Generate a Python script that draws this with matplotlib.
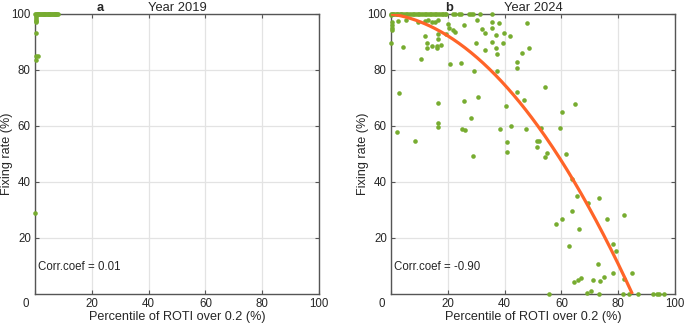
import numpy as np
import matplotlib.pyplot as plt
import matplotlib.transforms as mtransforms

# ---- data ----
# 2019: fixing rate vs percentile of ROTI > 0.2
x2019_top = [0, 0.3, 0.6, 0.9, 1.2, 1.5, 1.8, 2.1, 2.4, 2.7, 3.0, 3.3, 3.6, 3.9,
             4.2, 4.5, 4.8, 5.1, 5.4, 5.7, 6.0, 6.3, 6.6, 6.9, 7.2, 7.5, 7.8, 8.1]
x2019_other = [0.2, 0.3, 0.2, 0.5, 0.3, 0.2, 0.3, 1.2, 0.2, 0.1]
y2019_other = [99.3, 98.6, 98.0, 97.6, 97.2, 93.3, 85.1, 84.9, 83.6, 29.0]

# 2024
x2024_top = [0, 0.4, 0.8, 1.2, 1.6, 2.0, 2.5, 3.0, 3.5, 4.0, 4.6, 5.2, 5.8, 6.4,
             7.0, 7.6, 8.2, 8.8, 9.4, 10.0, 10.6, 11.2, 11.8, 12.4, 13.0, 13.6,
             14.2, 14.8, 15.4, 16.0, 16.6, 17.2, 17.8, 18.4, 19.0, 19.5, 21.8,
             22.5, 23.9, 24.6, 27.5, 28.2, 28.9, 31.3, 35.6]
x2024_other = [0.1, 0.3, 0.3, 0.2, 0.4, 0.1, 2.5, 5.3, 4.3, 2.9, 2.2, 8.4, 9.5,
               10.6, 12.0, 12.0, 12.8, 12.8, 13.0, 14.4, 14.3, 15.5, 16.1, 16.1,
               16.5, 16.5, 17.6, 16.5, 16.5, 16.5, 16.5, 19.4, 20.0, 20.4, 21.8,
               22.5, 20.8, 24.6, 25.7, 25.7, 25.0, 26.0, 28.2, 28.9, 29.9, 29.2,
               30.3, 30.6, 32.0, 33.1, 33.1, 35.6, 35.6, 35.6, 37.0, 37.0, 37.3,
               37.3, 38.0, 39.4, 39.8, 41.9, 38.4, 40.5, 42.3, 40.8, 40.8, 44.4,
               44.4, 44.4, 46.1, 46.8, 47.9, 47.5, 48.6, 51.4, 52.0, 51.4, 52.8,
               54.2, 54.2, 54.9, 59.5, 60.2, 61.6, 64.8, 63.7, 65.5, 69.4, 73.2,
               63.7, 60.2, 58.1, 66.2, 76.0, 82.0, 62.7, 78.2, 79.2, 72.9, 78.2,
               84.9, 75.0, 66.9, 65.8, 64.4, 71.1, 73.6, 82.0, 69.0, 70.4]
y2024_other = [99.5, 97.2, 96.1, 94.9, 94.3, 89.6, 97.5, 97.8, 88.2, 71.7, 58.0,
               54.6, 97.1, 83.9, 92.1, 97.5, 89.6, 87.9, 97.9, 97.1, 88.5, 97.1,
               88.5, 88.0, 97.9, 91.0, 89.0, 93.0, 68.2, 61.0, 59.6, 93.0, 96.4,
               95.0, 94.3, 93.6, 82.3, 82.6, 96.0, 69.0, 59.0, 58.6, 62.8, 49.3,
               89.5, 79.6, 98.0, 70.5, 94.5, 93.3, 87.0, 97.0, 90.0, 95.0, 92.5,
               88.0, 85.6, 79.6, 96.7, 89.5, 93.3, 92.0, 58.8, 67.0, 60.0, 54.3,
               50.7, 80.6, 82.9, 72.0, 86.0, 69.3, 96.8, 58.8, 87.7, 54.6, 54.6,
               52.6, 59.3, 73.9, 48.9, 50.4, 59.3, 65.0, 50.0, 67.9, 41.0, 35.0,
               32.5, 34.3, 29.6, 26.8, 25.0, 23.2, 26.8, 28.2, 17.1, 17.9, 15.4,
               10.7, 7.5, 7.5, 6.1, 5.7, 5.0, 4.3, 5.0, 4.6, 5.4, 0.4, 1.1]
x2024_bottom = [55.6, 73.2, 81.7, 83.8, 87.0, 92.3, 93.7, 94.4, 96.1]

# quadratic fit for 2024 (c2, c1, c0)
fit_coef_2024 = [-0.0121, -0.148, 100.0]

panel_letters = ['a', 'b']
panel_titles = ['Year 2019', 'Year 2024']
corr_texts = ['Corr.coef = 0.01', 'Corr.coef = -0.90']

GREEN = '#77AC30'
ORANGE = '#FF6428'
AXCOL = '#555555'
TXT = '#262626'

plt.rcParams['font.family'] = ['Liberation Sans', 'DejaVu Sans']


def style_axes(ax, letter, title, corr, letter_x):
    ax.set_xlim(0, 100)
    ax.set_ylim(0, 100)
    ax.set_xticks([0, 20, 40, 60, 80, 100])
    ax.set_yticks([20, 40, 60, 80, 100])
    ax.grid(True, color='#e3e3e3', linewidth=0.9)
    ax.set_axisbelow(True)
    ax.tick_params(direction='in', length=3, width=0.8, top=True, right=True,
                   labelsize=8.3, colors=AXCOL, labelcolor=TXT, pad=3)
    for s in ax.spines.values():
        s.set_color(AXCOL)
        s.set_linewidth(1.0)
    # shift the "0" label to the lower-left corner like the original
    lab0 = ax.get_xticklabels()[0]
    off = mtransforms.ScaledTranslation(-9 / 100, 0, ax.figure.dpi_scale_trans)
    lab0.set_transform(lab0.get_transform() + off)
    ax.set_xlabel('Percentile of ROTI over 0.2 (%)', fontsize=9.1, color=TXT,
                  labelpad=0.5)
    ax.set_ylabel('Fixing rate (%)', fontsize=9.1, color=TXT, va='center')
    ax.yaxis.set_label_coords(-0.098, 0.5)
    ax.set_title(title, fontsize=9.3, color=TXT, pad=2.5)
    ax.annotate(letter, xy=(letter_x, 1.0), xycoords=('data', 'axes fraction'),
                xytext=(0, 2.5), textcoords='offset points', fontsize=9.3,
                fontweight='bold', ha='center', va='baseline', color=TXT)
    ax.text(1, 9.6, corr, fontsize=8.3, color=TXT, va='center', ha='left')


def main():
    fig = plt.figure(figsize=(6.85, 3.24), dpi=100)
    ax1 = fig.add_axes([0.0511, 0.0926, 0.4146, 0.8642])
    ax2 = fig.add_axes([0.5708, 0.0926, 0.4146, 0.8642])

    mk = dict(linestyle='none', marker='o', ms=3.3, mew=0, color=GREEN,
              clip_on=False, zorder=3)

    # 2019
    ax1.plot(x2019_top, [100] * len(x2019_top), **mk)
    ax1.plot(x2019_other, y2019_other, **mk)

    # 2024
    ax2.plot(x2024_top, [100] * len(x2024_top), **mk)
    ax2.plot(x2024_other, y2024_other, **mk)
    ax2.plot(x2024_bottom, [0] * len(x2024_bottom), **mk)

    roots = np.roots(fit_coef_2024)
    x_end = max(r.real for r in roots if abs(r.imag) < 1e-9)
    x_fit = np.linspace(0, x_end, 200)
    ax2.plot(x_fit, np.polyval(fit_coef_2024, x_fit), color=ORANGE,
             linewidth=2.3, zorder=4, solid_capstyle='butt')

    style_axes(ax1, panel_letters[0], panel_titles[0], corr_texts[0], 23)
    style_axes(ax2, panel_letters[1], panel_titles[1], corr_texts[1], 20.3)

    fig.savefig('out.png', dpi=100)


if __name__ == "__main__":
    main()
